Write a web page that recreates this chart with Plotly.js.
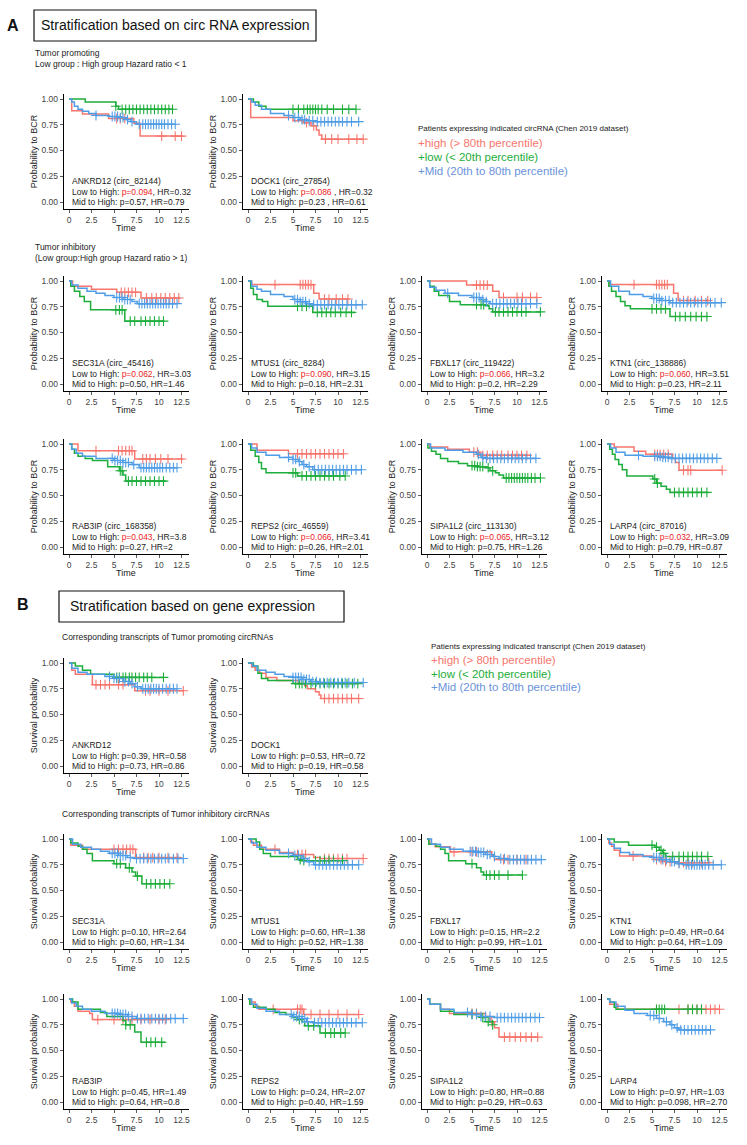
<!DOCTYPE html>
<html><head><meta charset="utf-8">
<script src="https://cdn.plot.ly/plotly-3.0.1.min.js"></script>
<style>html,body{margin:0;padding:0;background:#fff}#chart{width:747px;height:1145px}</style>
</head><body><div id="chart"></div>
<script>
// ---------------- DATA ----------------
const panelGenes = ['ANKRD12 (circ_82144)','DOCK1 (circ_27854)','SEC31A (circ_45416)','MTUS1 (circ_8284)','FBXL17 (circ_119422)','KTN1 (circ_138886)','RAB3IP (circ_168358)','REPS2 (circ_46559)','SIPA1L2 (circ_113130)','LARP4 (circ_87016)',
  'ANKRD12','DOCK1','SEC31A','MTUS1','FBXL17','KTN1','RAB3IP','REPS2','SIPA1L2','LARP4'];
const lowHighP  = ['0.094','0.086 ','0.062','0.090','0.066','0.060','0.043','0.066','0.065','0.032','0.39','0.53','0.10','0.60','0.15','0.49','0.45','0.24','0.80','0.97'];
const lowHighHR = ['0.32','0.32','3.03','3.15','3.2','3.51','3.8','3.41','3.12','3.09','0.58','0.72','2.64','1.38','2.2','0.64','1.49','2.07','0.88','1.03'];
const midHighP  = ['0.57','0.23 ','0.50','0.18','0.2','0.23','0.27','0.26','0.75','0.79','0.73','0.19','0.60','0.52','0.99','0.64','0.64','0.40','0.29','0.098'];
const midHighHR = ['0.79','0.61','1.46','2.31','2.29','2.11','2','2.01','1.26','0.87','0.86','0.58','1.34','1.38','1.01','1.09','0.8','1.59','0.63','2.70'];

const xTicks = [0,2.5,5,7.5,10,12.5];
const xTickText = ['0','2.5','5','7.5','10','12.5'];
const yTicks = [0,0.25,0.5,0.75,1];
const yTickText = ['0.00','0.25','0.50','0.75','1.00'];

// high (> 80th percentile) group: step times, survival after step, censor times
const highT = [
 [0,0.3,1.5,4.4,7.2,7.9,12.7],
 [0,0.3,5.0,6.2,7.0,7.6,7.9,8.2,12.8],
 [0,0.4,2.5,5.3,8.0,12.4],
 [0,0.4,7.3,7.9,11.3],
 [0,4.4,7.3,8.0,12.3],
 [0,0.3,7.4,7.9,11.4],
 [0,1.0,7.3,12.7],
 [0,1.0,4.5,10.7],
 [0,0.3,2.3,4.7,5.9,11.4],
 [0,0.8,3.0,4.3,7.3,7.6,8.0,12.8],
 [0,0.3,0.7,2.6,7.3,12.8],
 [0,0.4,0.8,1.3,2.0,3.2,5.6,6.3,6.6,7.5,7.9,8.1,12.3],
 [0,0.2,1.5,7.4,12.4],
 [0,0.3,0.6,1.5,3.5,5.0,7.3,8.0,12.8],
 [0,0.3,0.9,2.6,7.2,7.5,11.3],
 [0,0.2,0.5,0.8,1.4,5.0,5.5,6.5,7.5,11.5],
 [0,0.2,0.6,1.0,2.3,2.6,10.7],
 [0,0.2,0.8,1.2,6.2,12.3],
 [0,0.3,1.5,2.5,6.5,7.0,7.5,8.0,12.3],
 [0,0.3,1.2,12.5]];
const highS = [
 [1,0.885,0.855,0.81,0.765,0.64,0.64],
 [1,0.82,0.79,0.77,0.74,0.70,0.65,0.61,0.61],
 [1,0.95,0.92,0.89,0.835,0.835],
 [1,0.965,0.88,0.825,0.825],
 [1,0.96,0.90,0.84,0.84],
 [1,0.965,0.88,0.81,0.81],
 [1,0.935,0.855,0.855],
 [1,0.94,0.905,0.905],
 [1,0.97,0.95,0.92,0.89,0.89],
 [1,0.97,0.93,0.90,0.86,0.82,0.745,0.745],
 [1,0.93,0.89,0.79,0.73,0.73],
 [1,0.96,0.93,0.90,0.86,0.83,0.80,0.78,0.75,0.72,0.69,0.655,0.655],
 [1,0.94,0.90,0.82,0.82],
 [1,0.97,0.94,0.90,0.87,0.85,0.82,0.81,0.81],
 [1,0.95,0.925,0.875,0.84,0.80,0.80],
 [1,0.96,0.93,0.89,0.835,0.82,0.80,0.78,0.77,0.77],
 [1,0.97,0.93,0.88,0.86,0.80,0.80],
 [1,0.97,0.93,0.90,0.85,0.85],
 [1,0.95,0.90,0.86,0.83,0.78,0.72,0.63,0.63],
 [1,0.95,0.90,0.90]];
const highC = [
 [5.3,5.7,6.2,10.3,11.8,12.5],
 [6.5,7.3,8.6,9.3,10,11.2,12.1,12.8],
 [5.8,6.2,6.6,7,7.4,8.6,9.2,9.7,10.2,10.7,11.2,11.7,12.2],
 [3,5.8,6.1,6.4,6.7,7,8.5,9,9.8,10.5,11.1],
 [5.5,5.9,6.3,6.7,8.5,10,10.6,11.5,12.2],
 [3,5.5,5.8,6.1,6.4,6.7,8.5,9,9.8,10.5,11.2],
 [3,5.5,5.9,6.3,6.7,7.0,8.2,8.6,9,9.6,10.2,11,12.5],
 [5.5,6,6.5,7,7.5,8,8.5,9,9.5,10,10.6],
 [5.2,5.6,6.2,6.7,7.3,7.8,8.3,9,9.5,10,10.5,11.1],
 [5.3,5.6,5.9,6.3,6.8,8.5,9,9.3,12.8],
 [3,3.5,4,4.5,5.5,6,8.5,9,10,11,12.7],
 [8.5,9,9.5,10,10.5,11,11.5,12.3],
 [5,5.5,6,6.4,6.8,7.1,8.3,8.8,9.3,10,11,12],
 [3,5.5,6,6.4,8.5,9,9.5,10,10.5,11,12.8],
 [3,5,5.5,8.5,9,10,11],
 [2.9,5.5,6,6.5,7,8,8.5,9,9.5,10.5,11.3],
 [3.2,5,6,7,8,9,10,10.7],
 [2.8,5.5,5.8,6,7,8,9,10,11,12.3],
 [5,5.5,7.2,8.6,9.2,9.8,10.4,11,11.6,12.3],
 [5.5,8,9,9.5,10,10.5,11,11.5,12,12.5]];

// low (< 20th percentile) group
const lowT = [
 [0,1.8,5.2,5.5,11.5],
 [0,0.6,1.2,2.0,12.0],
 [0,0.2,0.6,1.2,1.7,2.4,6.2,10.6],
 [0,0.3,0.6,1.0,1.6,2.2,7.2,11.9],
 [0,0.3,0.8,1.3,2.5,3.7,6.5,6.9,7.3,12.6],
 [0,0.2,0.5,1,1.5,2,2.6,7.0,11.2],
 [0,0.3,0.6,1.0,1.8,2.6,4.3,5.6,6.0,6.3,10.8],
 [0,0.3,0.8,1.2,1.5,2.0,5.5,10.8],
 [0,0.1,0.5,1.0,1.5,2.3,3.5,4.5,5.5,6.5,7.0,7.6,8.0,8.5,12.6],
 [0,0.3,0.6,0.9,1.3,1.7,2.2,5.1,5.5,6.0,6.6,7.0,11.3],
 [0,0.7,1.5,2.4,5.0,10.5],
 [0,0.6,1.1,1.5,2.2,5.0,12.2],
 [0,0.2,1.0,1.5,2.0,2.6,5.0,6.3,7.0,7.4,8.1,11.2],
 [0,0.9,1.3,1.7,2.5,5.5,6.0,10.5],
 [0,0.2,1,1.5,2.0,2.4,4.3,5.5,6.0,6.3,10.6],
 [0,0.8,2.4,5.3,5.8,6.2,6.5,11.2],
 [0,0.4,1.0,3.5,4.2,6.0,6.3,7.3,8.0,10.7],
 [0,0.2,0.6,2.0,3.0,4.2,5.0,5.5,6.0,6.3,8.0,10.8],
 [0,0.3,1.5,3,6.0,6.5,7.3],
 [0,0.3,0.8,1.0,10.5]];
const lowS = [
 [1,0.97,0.93,0.90,0.90],
 [1,0.97,0.93,0.90,0.90],
 [1,0.95,0.90,0.85,0.80,0.72,0.61,0.61],
 [1,0.93,0.87,0.82,0.80,0.755,0.695,0.695],
 [1,0.95,0.90,0.86,0.80,0.77,0.76,0.73,0.70,0.70],
 [1,0.95,0.90,0.85,0.80,0.76,0.73,0.655,0.655],
 [1,0.95,0.91,0.88,0.86,0.84,0.78,0.74,0.70,0.64,0.64],
 [1,0.94,0.88,0.82,0.76,0.72,0.69,0.69],
 [1,0.96,0.93,0.90,0.86,0.83,0.81,0.79,0.78,0.77,0.74,0.72,0.70,0.67,0.67],
 [1,0.95,0.90,0.85,0.80,0.75,0.69,0.66,0.62,0.59,0.56,0.53,0.53],
 [1,0.97,0.93,0.89,0.86,0.86],
 [1,0.97,0.90,0.85,0.83,0.80,0.80],
 [1,0.96,0.93,0.90,0.86,0.79,0.76,0.72,0.68,0.64,0.565,0.565],
 [1,0.97,0.90,0.86,0.83,0.80,0.79,0.79],
 [1,0.95,0.93,0.90,0.86,0.79,0.76,0.72,0.68,0.65,0.65],
 [1,0.97,0.94,0.92,0.89,0.86,0.83,0.83],
 [1,0.97,0.90,0.87,0.83,0.79,0.75,0.68,0.58,0.58],
 [1,0.95,0.92,0.90,0.87,0.85,0.82,0.80,0.78,0.74,0.67,0.67],
 [1,0.95,0.88,0.85,0.82,0.78,0.75],
 [1,0.97,0.92,0.90,0.90]];
const lowC = [
 [5.2,5.9,6.3,6.7,7.1,7.5,7.9,8.3,8.7,9.1,9.5,9.9,10.3,10.7,11.1,11.5],
 [5,5.6,6.2,6.6,6.9,7.2,7.5,7.8,8.2,8.8,9.5,10.5,11.2,12],
 [5.2,5.6,5.9,6.8,7.3,8,8.5,9,9.5,10,10.5],
 [5.5,6,6.5,7.7,8.2,8.7,9.2,9.7,10.3,10.9,11.5],
 [5.5,6,6.3,7.6,8,8.5,9,9.5,10,10.5,11,12.6],
 [5,5.5,6,6.5,7.6,8.1,8.7,9.3,9.9,10.5,11.1],
 [5.7,5.9,6.6,7,7.5,8,8.5,9,9.5,10,10.5],
 [5,5.3,6,6.5,7,7.5,8,8.5,9,9.5,10.2,10.8],
 [5,5.3,5.6,5.9,6.2,6.8,7.3,8.8,9.1,9.4,9.7,10,10.3,10.6,10.9,11.2,11.6,12,12.6],
 [5.3,5.6,7.5,8,8.5,9,9.5,10,10.5,11.1],
 [5.3,5.6,6,6.3,6.7,7,7.4,7.8,8.3,8.7,9.2,10.5],
 [5.3,5.7,6,6.4,7,7.5,8,8.5,9,9.5,10,10.5,11,11.6,12.2],
 [5.3,5.7,6.7,7.6,8.6,9.1,9.6,10.1,10.6,11.2],
 [5.8,6.2,7.5,8,8.5,9,9.5,10.5],
 [5,6.6,7,7.5,8,9,10.6],
 [5,5.5,6,6.3,7.3,8,8.5,9,9.5,10,10.5,11.2],
 [6.3,6.8,8.6,9.1,9.6,10.3],
 [5.7,6.7,7.3,8.6,9.2,9.6,10.3,10.8],
 [5,5.5,6.2,6.8,7.3],
 [5.5,5.8,6.1,6.4,9,9.5,10,10.5]];

// mid (20th to 80th percentile) group
const midT = [
 [0,0.3,0.6,1,1.5,2.2,3,4.5,5.5,6.3,6.9,7.5,11.8],
 [0,0.4,0.8,1.5,2.5,4,5,5.8,6.5,7.5,12.3],
 [0,0.3,1,2,3,4,5,6,7,7.6,12],
 [0,0.4,1,1.5,2.5,4,5,5.8,6.5,7,12.7],
 [0,0.3,1,2,3.5,5,6,6.5,7,12.2],
 [0,0.4,1.3,2.5,4,5,6,7,12.7],
 [0,0.3,0.8,1.5,3,5,6,7,7.8,12],
 [0,0.4,1,2,3.5,5,5.6,6,6.5,7.2,12.6],
 [0,0.4,2,4,5.5,6,6.5,12.1],
 [0,0.4,1,2,4,6,7,12.2],
 [0,0.3,1,2,4,5,6,6.8,7.3,8,12],
 [0,0.5,1,2,3,4,5,6,7,8,12.8],
 [0,0.4,1.3,2.5,3.5,4.5,5.5,6.5,7.2,12.7],
 [0,0.4,1,2,3.5,5,6,6.6,7.3,12.3],
 [0,0.5,1.5,2.5,4,5.5,6.5,7.3,8,9,12.7],
 [0,0.3,0.8,1.5,2.5,4,5,6,7,7.8,8.5,12.7],
 [0,0.3,0.8,1.5,2.5,4,5.5,6.5,7.5,12.7],
 [0,0.4,1,2,3.5,5,6,6.5,7.2,12.7],
 [0,0.3,1.5,3,5,6,7.5,12.5],
 [0,0.3,1,2,3,4.5,5.5,6.3,7,7.5,8,11.5]];
const midS = [
 [1,0.97,0.93,0.90,0.88,0.86,0.84,0.83,0.82,0.80,0.78,0.755,0.755],
 [1,0.97,0.94,0.90,0.86,0.84,0.82,0.80,0.79,0.78,0.78],
 [1,0.96,0.93,0.90,0.88,0.86,0.84,0.82,0.80,0.78,0.78],
 [1,0.95,0.92,0.90,0.87,0.85,0.82,0.80,0.78,0.77,0.77],
 [1,0.94,0.91,0.88,0.86,0.84,0.82,0.80,0.78,0.78],
 [1,0.95,0.90,0.87,0.85,0.83,0.81,0.79,0.79],
 [1,0.95,0.91,0.88,0.86,0.84,0.82,0.80,0.77,0.77],
 [1,0.96,0.92,0.89,0.87,0.85,0.83,0.80,0.78,0.75,0.75],
 [1,0.96,0.94,0.92,0.90,0.87,0.86,0.86],
 [1,0.96,0.92,0.89,0.88,0.87,0.86,0.86],
 [1,0.95,0.91,0.89,0.87,0.85,0.82,0.80,0.77,0.75,0.75],
 [1,0.97,0.93,0.91,0.89,0.87,0.86,0.84,0.82,0.81,0.81],
 [1,0.95,0.92,0.90,0.88,0.86,0.84,0.82,0.81,0.81],
 [1,0.96,0.92,0.89,0.86,0.84,0.81,0.78,0.75,0.75],
 [1,0.95,0.92,0.90,0.88,0.87,0.85,0.83,0.81,0.80,0.80],
 [1,0.95,0.91,0.87,0.85,0.83,0.82,0.80,0.78,0.76,0.75,0.75],
 [1,0.96,0.93,0.90,0.88,0.86,0.85,0.83,0.81,0.81],
 [1,0.95,0.91,0.88,0.85,0.83,0.81,0.78,0.77,0.77],
 [1,0.95,0.90,0.87,0.85,0.83,0.82,0.82],
 [1,0.97,0.93,0.89,0.86,0.84,0.81,0.78,0.75,0.72,0.70,0.70]];
const midC = [
 [3,4.8,5.1,5.4,5.7,6,6.5,7,7.8,8.2,8.5,8.8,9.1,9.4,9.7,10,10.3,10.6,11,11.4,11.8],
 [4.5,5.2,5.6,6,6.3,6.8,7.2,7.7,8.1,8.5,8.9,9.3,9.7,10.1,10.5,11,11.5,12.3],
 [5.3,5.6,5.9,6.2,6.5,6.8,7.8,8.1,8.4,8.7,9,9.3,9.6,9.9,10.2,10.5,10.8,11.1,11.5,12],
 [5.2,5.5,5.8,6.1,6.4,6.8,7.3,7.7,8.1,8.5,8.9,9.3,9.7,10.1,10.5,11,11.5,12,12.7],
 [2.3,5.2,5.5,5.8,6.2,6.6,7.3,7.7,8.1,8.5,8.9,9.3,9.7,10.1,10.5,11,11.5,12.2],
 [5.2,5.5,5.8,6.1,6.5,6.9,7.3,7.7,8.1,8.5,8.9,9.3,9.7,10.1,10.5,11,11.5,12,12.7],
 [4.8,5.1,5.4,5.7,6,6.3,6.6,7.2,8,8.3,8.6,8.9,9.2,9.5,9.8,10.1,10.4,10.8,11.2,11.6,12],
 [4.5,5,5.3,5.7,6.2,6.8,7.4,7.8,8.2,8.6,9,9.4,9.8,10.2,10.6,11,11.5,12,12.6],
 [5.7,6.2,6.6,7,7.4,7.8,8.2,8.6,9,9.4,9.8,10.2,10.6,11,11.5,12.1],
 [3.5,5.3,5.6,5.9,6.2,6.5,6.8,7.2,7.6,8,8.4,8.8,9.2,9.6,10,10.4,10.8,11.2,11.7,12.2],
 [4.5,5,5.3,5.6,6.2,6.6,7,7.6,8.2,8.5,8.8,9.1,9.4,9.7,10,10.4,10.8,11.2,11.6,12],
 [5,5.3,5.6,5.9,6.2,6.5,6.8,7.2,7.6,8,8.4,8.8,9.2,9.6,10,10.4,10.8,11.2,11.8,12.8],
 [4.8,5.1,5.4,5.7,6,6.3,6.8,7.5,7.9,8.3,8.7,9.1,9.5,9.9,10.3,10.7,11.1,11.6,12.1,12.7],
 [4.5,5.2,5.6,6.2,6.8,7.5,7.9,8.3,8.7,9.1,9.5,9.9,10.3,10.7,11.1,11.6,12.3],
 [4.8,5.1,5.4,5.7,6,6.3,6.7,7,7.5,8.2,8.6,9.2,9.6,10,10.4,10.8,11.2,11.6,12.1,12.7],
 [5.2,5.5,5.8,6.2,6.6,7.2,7.5,8,8.8,9.1,9.4,9.7,10,10.3,10.6,10.9,11.3,11.8,12.7],
 [4.8,5.1,5.4,5.7,6,6.3,6.6,7,7.6,8,8.4,8.8,9.2,9.6,10,10.4,10.8,11.3,11.8,12.7],
 [4.8,5.1,5.4,5.7,6,6.3,6.6,7.4,7.8,8.2,8.6,9,9.4,9.8,10.2,10.6,11,11.5,12,12.7],
 [4.5,5,5.5,6,6.5,7,7.8,8.2,8.6,9,9.4,9.8,10.2,10.6,11,11.5,12,12.5],
 [4.8,5.2,5.8,6.6,7.2,7.8,8.2,8.6,9,9.4,9.8,10.2,10.6,11,11.5]];

const legendItems = ['+high (> 80th percentile)','+low (< 20th percentile)','+Mid (20th to 80th percentile)'];

// ---------------- LAYOUT ----------------
const W = 747, H = 1145;
const colX0 = [69, 248, 427, 607];           // pixel of time 0
const rowY0 = [202, 384, 547, 766, 942, 1102]; // pixel of survival 0
const panelRow = [0,0,1,1,1,1,2,2,2,2,3,3,4,4,4,4,5,5,5,5];
const panelCol = [0,1,0,1,2,3,0,1,2,3,0,1,0,1,2,3,0,1,2,3];
const PXU_X = 9.0, PXU_Y = 103;
const X_RANGE = [-0.56, 13.3], Y_RANGE = [-0.065, 1.05];

const colHigh = '#F8766D', colLow = '#1DAD3B', colMid = '#4F9DE6';
const FONT = 'Liberation Sans, Arial, Helvetica, sans-serif';

const px = x => x / W;
const py = y => 1 - y / H;

function survAt(T, S, t) {
  let v = S[0];
  for (let k = 0; k < T.length; k++) { if (T[k] <= t) v = S[k]; }
  return v;
}

const traces = [];
const layout = {
  width: W, height: H, margin: {l:0, r:0, t:0, b:0},
  paper_bgcolor: '#fff', plot_bgcolor: 'rgba(0,0,0,0)',
  showlegend: false, font: {family: FONT, color: '#222'},
  annotations: [], shapes: []
};
const anns = layout.annotations;
function ann(x, y, text, o) {
  o = o || {};
  anns.push(Object.assign({xref:'paper', yref:'paper', x: px(x), y: py(y), text: text, showarrow: false,
    xanchor: 'left', yanchor: 'middle', font: {family: FONT, size: 8.5, color: '#222'}}, o));
}

const groups = [
  {T: highT, S: highS, C: highC, color: colHigh},
  {T: lowT,  S: lowS,  C: lowC,  color: colLow},
  {T: midT,  S: midS,  C: midC,  color: colMid}
];

for (let i = 0; i < 20; i++) {
  const suf = i === 0 ? '' : String(i + 1);
  const X0 = colX0[panelCol[i]], Y0 = rowY0[panelRow[i]];
  const isB = i >= 10;
  const left = X0 + X_RANGE[0] * PXU_X, right = X0 + X_RANGE[1] * PXU_X;
  const top = Y0 - Y_RANGE[1] * PXU_Y, bottom = Y0 - Y_RANGE[0] * PXU_Y;
  layout['xaxis' + suf] = {
    domain: [px(left), px(right)], range: X_RANGE, anchor: 'y' + suf,
    showline: true, linecolor: '#000', linewidth: isB ? 1 : 1.3, mirror: false,
    ticks: 'outside', ticklen: 3, tickwidth: 0.8, tickcolor: '#333',
    tickvals: xTicks, ticktext: xTickText, tickfont: {family: FONT, size: 8.5, color: '#444'},
    showgrid: false, zeroline: false, fixedrange: true
  };
  layout['yaxis' + suf] = {
    domain: [py(bottom), py(top)], range: Y_RANGE, anchor: 'x' + suf,
    showline: true, linecolor: '#000', linewidth: isB ? 1 : 1.3,
    ticks: 'outside', ticklen: 3, tickwidth: 0.8, tickcolor: '#333',
    tickvals: yTicks, ticktext: yTickText, tickfont: {family: FONT, size: 8.5, color: '#444'},
    showgrid: false, zeroline: false, fixedrange: true
  };
  groups.forEach(g => {
    traces.push({x: g.T[i], y: g.S[i], mode: 'lines', line: {shape: 'hv', width: 1.5, color: g.color},
      xaxis: 'x' + suf, yaxis: 'y' + suf, hoverinfo: 'skip'});
    traces.push({x: g.C[i], y: g.C[i].map(c => survAt(g.T[i], g.S[i], c)), mode: 'markers',
      marker: {symbol: 'cross-thin', size: 7, color: g.color, line: {width: 1.1, color: g.color}},
      xaxis: 'x' + suf, yaxis: 'y' + suf, hoverinfo: 'skip'});
  });
  // in-plot texts
  ann(X0 + 1, Y0 - 21, panelGenes[i]);
  const pTxt = isB ? 'p=' + lowHighP[i] : '<span style="color:#EE1C25">p=' + lowHighP[i] + '</span>';
  ann(X0 + 1, Y0 - 10.5, 'Low to High: ' + pTxt + ', HR=' + lowHighHR[i]);
  ann(X0 + 1, Y0, 'Mid to High: p=' + midHighP[i] + ', HR=' + midHighHR[i]);
  // axis titles
  ann(X0 - 35, (top + bottom) / 2, isB ? 'Survival probability' : 'Probability to BCR',
      {xanchor: 'center', textangle: -90, font: {family: FONT, size: 9, color: '#222'}});
  ann((left + right) / 2, Y0 + 26, 'Time', {xanchor: 'center', font: {family: FONT, size: 9, color: '#222'}});
}

const legCols = [colHigh, colLow, '#6B93DA'];

// ---- Section A header ----
ann(13, 25, '<b>A</b>', {xanchor: 'center', font: {family: FONT, size: 16, color: '#111'}});
layout.shapes.push({type: 'rect', xref: 'paper', yref: 'paper', x0: px(34), x1: px(316), y0: py(41), y1: py(10),
  line: {color: '#111', width: 1.2}});
ann(175, 25.5, 'Stratification based on circ RNA expression', {xanchor: 'center', font: {family: FONT, size: 14, color: '#111'}});
ann(33, 53, 'Tumor promoting', {font: {family: FONT, size: 8.5, color: '#222'}});
ann(33, 63.5, 'Low group : High group Hazard ratio < 1', {font: {family: FONT, size: 8.5, color: '#222'}});
ann(33, 247, 'Tumor inhibitory', {font: {family: FONT, size: 8.5, color: '#222'}});
ann(33, 257.5, '(Low group:High group Hazard ratio > 1)', {font: {family: FONT, size: 8.5, color: '#222'}});
ann(416, 129, 'Patients expressing indicated circRNA (Chen 2019 dataset)', {font: {family: FONT, size: 8, color: '#222'}});
legendItems.forEach((t, k) => ann(416, 143 + 14 * k, t, {font: {family: FONT, size: 11.5, color: legCols[k]}}));

// ---- Section B header ----
ann(23, 604, '<b>B</b>', {xanchor: 'center', font: {family: FONT, size: 16, color: '#111'}});
layout.shapes.push({type: 'rect', xref: 'paper', yref: 'paper', x0: px(59), x1: px(344), y0: py(622), y1: py(591),
  line: {color: '#111', width: 1.2}});
ann(68, 606, 'Stratification based on gene expression', {font: {family: FONT, size: 14, color: '#111'}});
ann(60, 637, 'Corresponding transcripts of Tumor promoting circRNAs', {font: {family: FONT, size: 8.5, color: '#222'}});
ann(60, 814, 'Corresponding transcripts of Tumor inhibitory circRNAs', {font: {family: FONT, size: 8.5, color: '#222'}});
ann(429, 646, 'Patients expressing indicated transcript (Chen 2019 dataset)', {font: {family: FONT, size: 8, color: '#222'}});
legendItems.forEach((t, k) => ann(429, 660 + 13.5 * k, t, {font: {family: FONT, size: 11.5, color: legCols[k]}}));

Plotly.newPlot('chart', traces, layout, {staticPlot: true, displayModeBar: false});
</script>
</body></html>
